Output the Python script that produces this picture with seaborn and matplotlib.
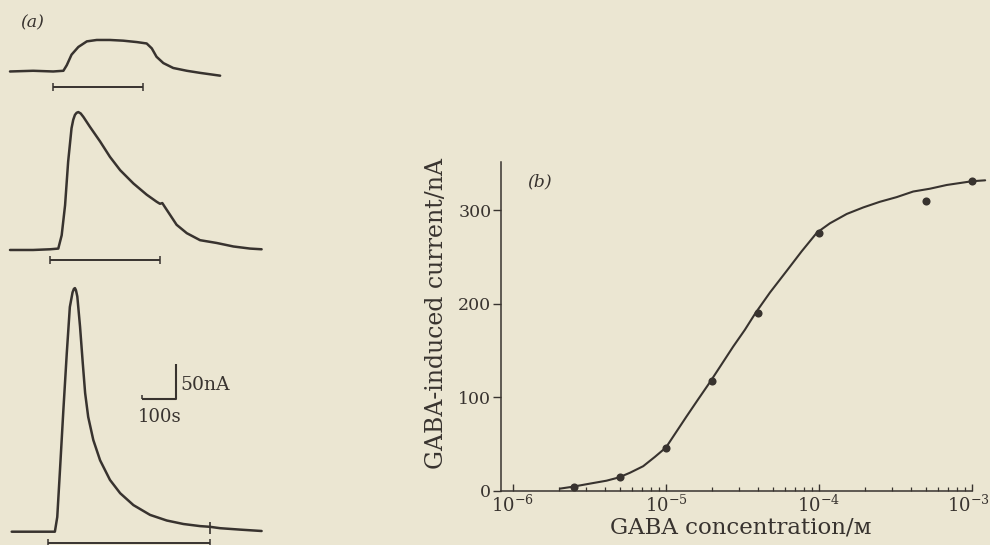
import numpy as np
import pandas as pd
import matplotlib
matplotlib.use("Agg")
import matplotlib.pyplot as plt
import matplotlib.ticker as mticker
import matplotlib.transforms as mtransforms
import seaborn as sns

# ---------------- data ----------------
# (a) current traces: time (s) and GABA-induced current (nA, relative to baseline)
trace1_t = [0, 68, 127, 157, 167, 181, 201, 226, 255, 294, 333, 373, 402, 417, 431, 451, 480, 520, 559, 618]
trace1_i = [0, 1, 0, 1, 9, 24, 35, 43, 45, 45, 44, 42, 40, 33, 21, 12, 5, 1, -2, -6]

trace2_t = [0, 68, 118, 142, 152, 162, 171, 181, 186, 191, 196, 201, 208, 216, 235, 265, 294, 324, 363, 402, 431,
            441, 448, 456, 471, 490, 520, 559, 608, 657, 706, 740]
trace2_i = [0, 0, 1, 2, 21, 64, 126, 174, 186, 193, 196, 197, 195, 190, 176, 155, 133, 114, 95, 79, 69,
            66, 67, 61, 50, 36, 24, 14, 10, 5, 2, 1]

trace3_t = [5, 68, 132, 139, 147, 157, 167, 176, 184, 188, 191, 194, 198, 206, 214, 221, 230, 245, 265, 294, 324,
            363, 412, 461, 510, 559, 588, 618, 676, 740]
trace3_i = [0, 0, 0, 21, 88, 174, 255, 321, 342, 347, 348, 345, 336, 293, 241, 198, 164, 131, 102, 74, 55,
            38, 24, 16, 11, 8, 7, 5, 3, 1]

# GABA application periods (s)
app_start = [127, 118, 113]
app_end = [392, 441, 588]

# scale bar
scale_nA = 50
scale_s = 100

# (b) dose-response
conc = [2.5e-6, 5e-6, 1e-5, 2e-5, 4e-5, 1e-4, 5e-4, 1e-3]
current = [4, 14, 46, 117, 190, 276, 310, 331]

curve_conc = [2.03e-6, 2.45e-6, 3.35e-6, 4.09e-6, 4.93e-6, 5.82e-6, 7.1e-6, 8.47e-6, 1.0e-5, 1.15e-5,
              1.36e-5, 1.63e-5, 1.94e-5, 2.31e-5, 2.75e-5, 3.28e-5, 3.85e-5, 4.79e-5, 6.15e-5, 7.71e-5,
              9.7e-5, 1.18e-4, 1.52e-4, 1.95e-4, 2.5e-4, 3.22e-4, 4.13e-4, 5.31e-4, 6.84e-4, 1.0e-3, 1.22e-3]
curve_current = [2, 4, 8, 10.5, 14, 19, 26, 36, 46, 61,
                 79, 98, 116, 135, 154, 172, 190, 212, 235, 256,
                 276, 286, 296, 303, 309, 314, 320, 323, 327, 331, 332]

yticks = [0, 100, 200, 300]
xticks = [1e-6, 1e-5, 1e-4, 1e-3]
xticklabels = [r"$10^{-6}$", r"$10^{-5}$", r"$10^{-4}$", r"$10^{-3}$"]

# ---------------- style ----------------
BG = "#ebe6d2"
INK = "#38332f"
sns.set_theme(style="white")
plt.rcParams["font.family"] = ["DejaVu Serif", "DejaVu Sans"]
plt.rcParams["mathtext.fontset"] = "dejavuserif"
plt.rcParams["axes.facecolor"] = BG
plt.rcParams["figure.facecolor"] = BG
plt.rcParams["text.color"] = INK
plt.rcParams["axes.labelcolor"] = INK
plt.rcParams["xtick.color"] = INK
plt.rcParams["ytick.color"] = INK
plt.rcParams["axes.edgecolor"] = INK

W, H = 990, 545
fig = plt.figure(figsize=(W / 100, H / 100), dpi=100)


def px_axes(x0, y0, x1, y1):
    return fig.add_axes([x0 / W, 1 - y1 / H, (x1 - x0) / W, (y1 - y0) / H])


# ---------------- panel (a) ----------------
t_lim = (-29.4, 794.1)
panels = [
    (0, 95, (-33.6, 102.1), trace1_t, trace1_i, -22.6),
    (95, 270, (-28.6, 221.4), trace2_t, trace2_i, -14.3),
    (270, 545, (-19.0, 373.9), trace3_t, trace3_i, -15.7),
]
trace_axes = []
for k, (ya, yb, ylim, tt, ii, bar_y) in enumerate(panels):
    ax = px_axes(0, ya, 280, yb)
    ax.set_facecolor("none")
    df = pd.DataFrame({"t": tt, "i": ii})
    sns.lineplot(data=df, x="t", y="i", ax=ax, color=INK, linewidth=1.8,
                 estimator=None, sort=False)
    ax.hlines(bar_y, app_start[k], app_end[k], color=INK, linewidth=1.4)
    ax.vlines([app_start[k], app_end[k]], bar_y - 5.5, bar_y + 5.5, color=INK, linewidth=1.1)
    ax.set_xlim(*t_lim)
    ax.set_ylim(*ylim)
    ax.axis("off")
    trace_axes.append(ax)

ax3 = trace_axes[2]
# end marker on trace 3
ax3.vlines(app_end[2], -3, 14, color=INK, linewidth=1.2)
# scale bar
sx1 = 487
sy0 = 189
ax3.plot([sx1 - scale_s, sx1, sx1], [sy0, sy0, sy0 + scale_nA], color=INK, linewidth=1.5,
         solid_capstyle="butt")
ax3.vlines(sx1 - scale_s, sy0, sy0 + 6, color=INK, linewidth=1.1)
ax3.text(sx1 + 15, sy0 + 21, f"{scale_nA}nA", fontsize=13.5, ha="left", va="center", color=INK)
ax3.text(sx1 - 46, sy0 - 25, f"{scale_s}s", fontsize=13, ha="center", va="center", color=INK)

fig.text(32 / W, 1 - 23 / H, "(a)", fontsize=12.5, style="italic", ha="center", va="center", color=INK)

# ---------------- panel (b) ----------------
axb = px_axes(501, 162, 990, 490.5)
axb.set_facecolor("none")
axb.set_xscale("log")
sns.lineplot(x=curve_conc, y=curve_current, ax=axb, color=INK, linewidth=1.5,
             estimator=None, sort=False)
sns.scatterplot(x=conc, y=current, ax=axb, color=INK, s=34, edgecolor=INK, linewidth=0, zorder=5)

xmin = 10 ** (-6.078)
xmax = 10 ** (-2.882)
axb.set_xlim(xmin, xmax)
axb.set_ylim(0, 351.6)
for s in ["top", "right"]:
    axb.spines[s].set_visible(False)
axb.spines["bottom"].set_bounds(xmin, 1e-3)
axb.spines["left"].set_linewidth(1.1)
axb.spines["bottom"].set_linewidth(1.1)

axb.set_yticks(yticks)
axb.set_yticklabels([str(v) for v in yticks], fontsize=12.5)
axb.tick_params(axis="y", direction="out", length=6, width=1, pad=1, left=True)
axb.set_xticks(xticks)
axb.set_xticklabels(xticklabels, fontsize=13)
minor = [m * 10.0 ** e for e in (-6, -5, -4) for m in range(2, 10)]
axb.xaxis.set_minor_locator(mticker.FixedLocator(minor))
axb.xaxis.set_minor_formatter(mticker.NullFormatter())
axb.tick_params(axis="x", which="major", direction="in", length=5, width=1, pad=3, bottom=True)
axb.tick_params(axis="x", which="minor", direction="in", length=3, width=0.9, bottom=True)
# keep the last decade label inside the figure edge
last = axb.get_xticklabels()[-1]
last.set_transform(last.get_transform() + mtransforms.ScaledTranslation(-4 / 100, 0, fig.dpi_scale_trans))

axb.set_ylabel("GABA-induced current/nA", fontsize=17)
axb.yaxis.set_label_coords(-0.108, 0.54)
axb.set_xlabel("GABA concentration/ᴍ", fontsize=16.5)
axb.xaxis.set_label_coords(0.491, -0.080)

fig.text(540 / W, 1 - 182 / H, "(b)", fontsize=12.5, style="italic", ha="center", va="center", color=INK)

fig.savefig("out.png", dpi=100, facecolor=BG)
